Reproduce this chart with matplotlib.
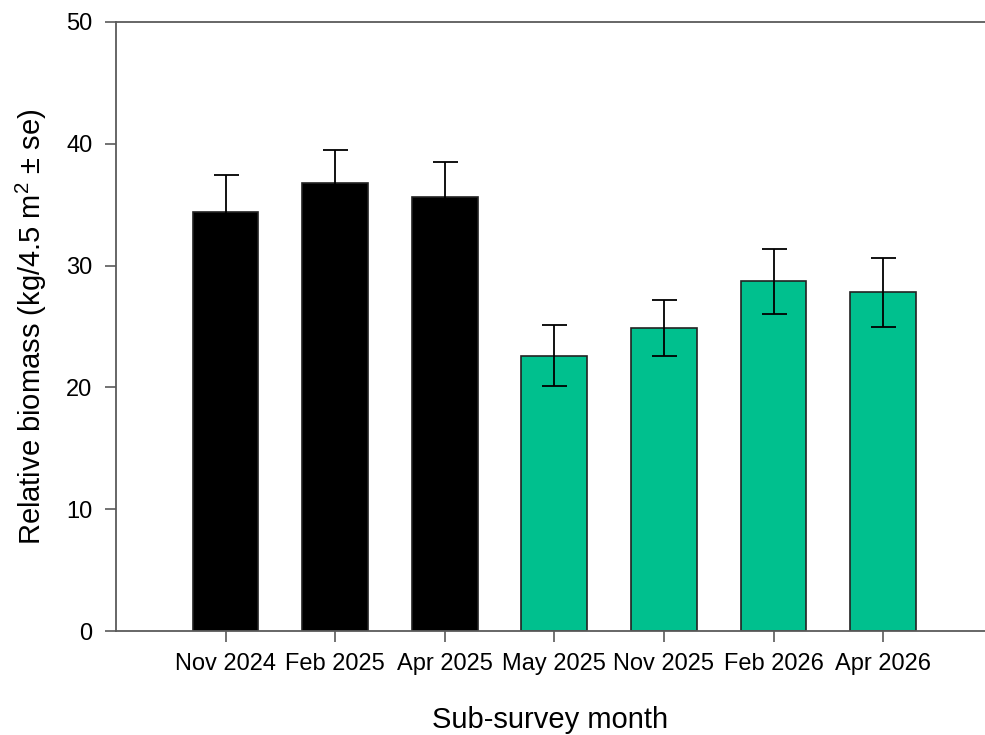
import numpy as np
import matplotlib
matplotlib.use("Agg")
import matplotlib.pyplot as plt

plt.rcParams["font.family"] = ["Liberation Sans", "DejaVu Sans"]
plt.rcParams["mathtext.fontset"] = "custom"
plt.rcParams["mathtext.rm"] = "Liberation Sans"
plt.rcParams["mathtext.it"] = "Liberation Sans:italic"

months = ["Nov 2024", "Feb 2025", "Apr 2025", "May 2025",
          "Nov 2025", "Feb 2026", "Apr 2026"]
biomass = [34.4, 36.75, 35.6, 22.6, 24.9, 28.7, 27.8]
se = [3.0, 2.75, 2.9, 2.5, 2.3, 2.7, 2.8]
bar_colors = ["black", "black", "black",
              "#00c08e", "#00c08e", "#00c08e", "#00c08e"]

spine_col = "#5a5a5a"

fig = plt.figure(figsize=(9.85, 7.35), dpi=100)
ax = fig.add_axes([116 / 985, 104 / 735, 1 - 116 / 985, 609 / 735])

x = np.arange(len(months))
ax.bar(x, biomass, width=0.6, color=bar_colors,
       edgecolor="#222222", linewidth=1.2, zorder=2)
ax.errorbar(x, biomass, yerr=se, fmt="none", ecolor="black",
            elinewidth=1.3, capsize=9, capthick=1.3, zorder=3)

ax.set_xlim(-1.0, 6.93)
ax.set_ylim(0, 50)
ax.set_yticks([0, 10, 20, 30, 40, 50])
ax.set_xticks(x)
ax.set_xticklabels(months)

for side in ["left", "bottom", "top"]:
    ax.spines[side].set_color(spine_col)
    ax.spines[side].set_linewidth(1.3)
ax.spines["right"].set_visible(False)

ax.tick_params(axis="y", direction="out", length=8, width=1.2,
               color=spine_col, labelsize=17, pad=9)
ax.tick_params(axis="x", direction="out", length=8, width=1.2,
               color=spine_col, labelsize=17, pad=8)

ax.set_xlabel("Sub-survey month", fontsize=21, labelpad=22)
ax.set_ylabel("Relative biomass (kg/4.5 m$^2$ ± se)", fontsize=21,
              labelpad=12)

plt.savefig("out.png", dpi=100)
plt.close()
